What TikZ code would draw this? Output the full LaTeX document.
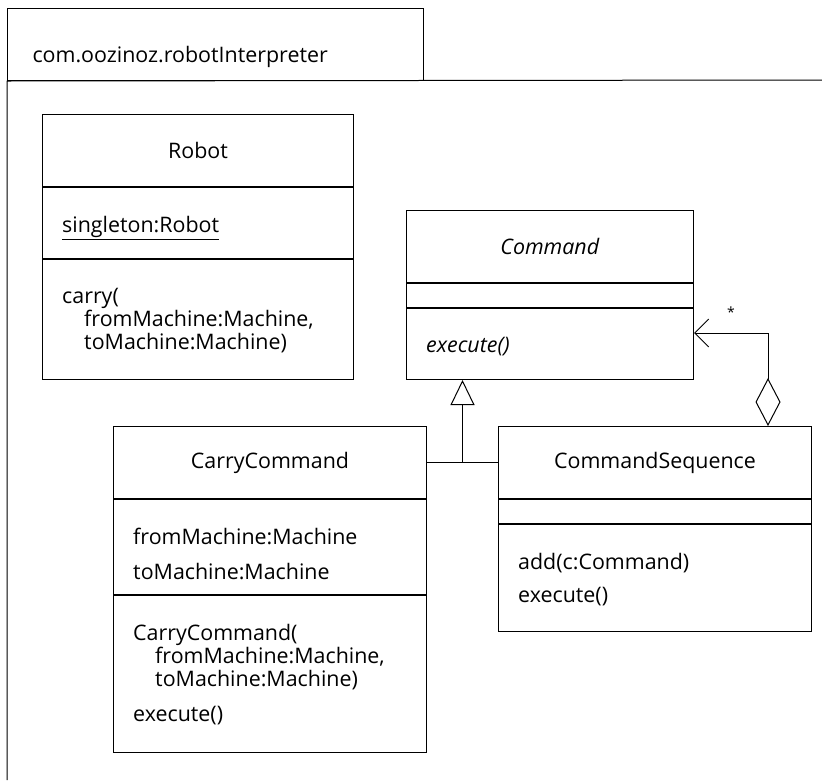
\documentclass[tikz,border=0pt]{standalone}
\usepackage{fontspec}
\setmainfont{Open Sans}
\usetikzlibrary{arrows.meta,positioning,calc}

\begin{document}
\begin{tikzpicture}[
    x=1pt, y=1pt,
    font=\fontsize{21.4}{23}\selectfont,
    pkgtab/.style={draw, line width=1pt, minimum width=416pt, minimum height=72pt, text width=366pt, inner xsep=25pt, inner ysep=0pt, text height=36pt, text depth=0pt, align=left, anchor=north west},
    classhead/.style={draw, line width=1pt, minimum width=#1, minimum height=72pt, inner sep=0pt},
    compart/.style={draw, line width=1pt, minimum width=#1, inner sep=0pt},
    member/.style={anchor=north west, align=left, inner sep=0pt, xshift=20pt, yshift=-29pt},
    link/.style={line width=1pt},
    inherit/.style={link, -{Triangle[open, length=25pt, width=24pt]}},
    aggregate/.style={link, {Diamond[open, length=48pt, width=25pt]}-{Straight Barb[length=14pt, width=28pt]}}
]
    \useasboundingbox (0,0) rectangle (822,-780);

    % Package
    \node[pkgtab] (pkg) at (7,-8) {com.oozinoz.robotInterpreter};
    \coordinate (pkgright) at (822,-80);
    \coordinate (pkgbottom) at (7,-780);
    \draw[link] (pkgright) -- (pkg.south west) -- (pkgbottom);

    % Robot
    \node[classhead=311pt, anchor=north west] (robot) at (42,-114) {Robot};
    \node[compart=311pt, minimum height=71pt, below=0pt of robot] (robotattr) {};
    \node[compart=311pt, minimum height=120pt, below=0pt of robotattr] (robotops) {};
    \node[member] (robotattrtext) at (robotattr.north west) {\underline{singleton:Robot}};
    \node[member] (robotopstext) at (robotops.north west) {carry(\\\hspace*{22pt}fromMachine:Machine,\\\hspace*{22pt}toMachine:Machine)};

    % Command
    \node[classhead=287pt, anchor=north west] (command) at (406,-210) {\textit{Command}};
    \node[compart=287pt, minimum height=24pt, below=0pt of command] (commandattr) {};
    \node[compart=287pt, minimum height=71pt, below=0pt of commandattr] (commandops) {};
    \node[member] (commandopstext) at (commandops.north west) {\textit{execute()}};

    % CarryCommand
    \node[classhead=313pt, anchor=north west] (carrycmd) at (113,-426) {CarryCommand};
    \node[compart=313pt, minimum height=95pt, below=0pt of carrycmd] (carrycmdattr) {};
    \node[compart=313pt, minimum height=157pt, below=0pt of carrycmdattr] (carrycmdops) {};
    \node[member] (carrycmdattrtext) at (carrycmdattr.north west) {fromMachine:Machine\\[12pt]toMachine:Machine};
    \node[member] (carrycmdopstext) at (carrycmdops.north west) {CarryCommand(\\\hspace*{22pt}fromMachine:Machine,\\\hspace*{22pt}toMachine:Machine)\\[12pt]execute()};

    % CommandSequence
    \node[classhead=313pt, right=71pt of carrycmd] (cmdseq) {CommandSequence};
    \node[compart=313pt, minimum height=24pt, below=0pt of cmdseq] (cmdseqattr) {};
    \node[compart=313pt, minimum height=107pt, below=0pt of cmdseqattr] (cmdseqops) {};
    \node[member] (cmdseqopstext) at (cmdseqops.north west) {add(c:Command)\\[10pt]execute()};

    % Generalization
    \coordinate (genjoint) at ($(carrycmd.east)!0.5!(cmdseq.west)$);
    \draw[link] (carrycmd.east) -- (cmdseq.west);
    \draw[inherit] (genjoint) -- (genjoint |- commandops.south);

    % Aggregation
    \coordinate (aggstart) at ([xshift=-44pt]cmdseq.north east);
    \draw[aggregate] (aggstart) |- node[pos=0.75, above=12pt, font=\fontsize{14}{16}\selectfont] (mult) {*} ([yshift=11pt]commandops.east);
\end{tikzpicture}
\end{document}
